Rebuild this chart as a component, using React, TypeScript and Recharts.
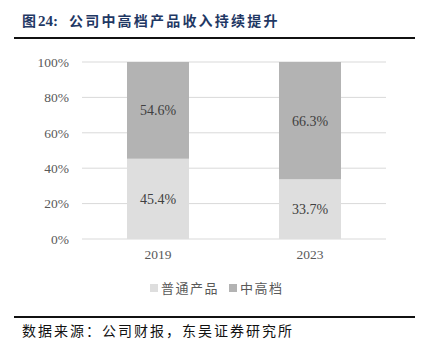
import React from 'react';
import { BarChart, Bar, XAxis, YAxis, CartesianGrid, LabelList } from 'recharts';

const years = ['2019', '2023'];
const regular = [45.4, 33.7];
const midHigh = [54.6, 66.3];
const yTicks = [0, 20, 40, 60, 80, 100];

const data = years.map((year, i) => ({ year, regular: regular[i], midHigh: midHigh[i] }));

const serif = '"Liberation Serif", "Times New Roman", serif';
const cjk = '"Noto Sans CJK SC", sans-serif';

export default function App() {
  return (
    <div style={{ position: 'absolute', left: 0, top: 0, width: 430, height: 354, background: '#fff' }}>
      <div
        style={{
          position: 'absolute',
          left: 22,
          top: 10,
          fontSize: 14,
          fontWeight: 700,
          color: '#1f3864',
          whiteSpace: 'nowrap',
          display: 'flex',
          alignItems: 'baseline',
        }}
      >
        <span style={{ fontFamily: cjk }}>图</span>
        <span style={{ fontFamily: serif, fontSize: 15, marginLeft: 2 }}>24:</span>
        <span style={{ fontFamily: cjk, letterSpacing: 2.2, marginLeft: 11 }}>公司中高档产品收入持续提升</span>
      </div>
      <div style={{ position: 'absolute', left: 14, top: 37, width: 401, height: 2, background: '#111' }} />

      <div style={{ position: 'absolute', left: 0, top: 0 }}>
        <BarChart
          width={430}
          height={300}
          data={data}
          margin={{ top: 62, right: 44, left: 0, bottom: 31 }}
        >
          <CartesianGrid vertical={false} stroke="#d9d9d9" strokeWidth={1} />
          <XAxis
            dataKey="year"
            axisLine={false}
            tickLine={false}
            tickSize={0}
            tickMargin={10}
            height={30}
            tick={{ fill: '#595959', fontSize: 13.5, fontFamily: serif }}
          />
          <YAxis
            domain={[0, 100]}
            ticks={yTicks}
            width={82}
            axisLine={false}
            tickLine={false}
            tickSize={0}
            tickMargin={13}
            tickFormatter={(v) => `${v}%`}
            tick={{ fill: '#595959', fontSize: 13.5, fontFamily: serif }}
          />
          <Bar dataKey="regular" stackId="a" fill="#dedede" barSize={62} isAnimationActive={false}>
            <LabelList
              dataKey="regular"
              position="center"
              formatter={(v: number) => `${v.toFixed(1)}%`}
              fill="#404040"
              fontSize={14}
              fontFamily={serif}
            />
          </Bar>
          <Bar dataKey="midHigh" stackId="a" fill="#b3b3b3" barSize={62} isAnimationActive={false}>
            <LabelList
              dataKey="midHigh"
              position="center"
              formatter={(v: number) => `${v.toFixed(1)}%`}
              fill="#404040"
              fontSize={14}
              fontFamily={serif}
            />
          </Bar>
        </BarChart>
      </div>

      <div
        style={{
          position: 'absolute',
          left: 150,
          top: 278,
          display: 'flex',
          alignItems: 'center',
          fontFamily: cjk,
          fontSize: 13,
          color: '#595959',
          letterSpacing: 1.5,
          whiteSpace: 'nowrap',
        }}
      >
        <span style={{ width: 8, height: 8, background: '#dedede', display: 'inline-block', marginRight: 3 }} />
        <span style={{ marginRight: 10 }}>普通产品</span>
        <span style={{ width: 8, height: 8, background: '#b3b3b3', display: 'inline-block', marginRight: 3 }} />
        <span>中高档</span>
      </div>

      <div style={{ position: 'absolute', left: 14, top: 316, width: 401, height: 2, background: '#111' }} />
      <div
        style={{
          position: 'absolute',
          left: 22,
          top: 320,
          fontFamily: cjk,
          fontSize: 14,
          color: '#111',
          letterSpacing: 2,
          whiteSpace: 'nowrap',
        }}
      >
        数据来源：公司财报，东吴证券研究所
      </div>
    </div>
  );
}
